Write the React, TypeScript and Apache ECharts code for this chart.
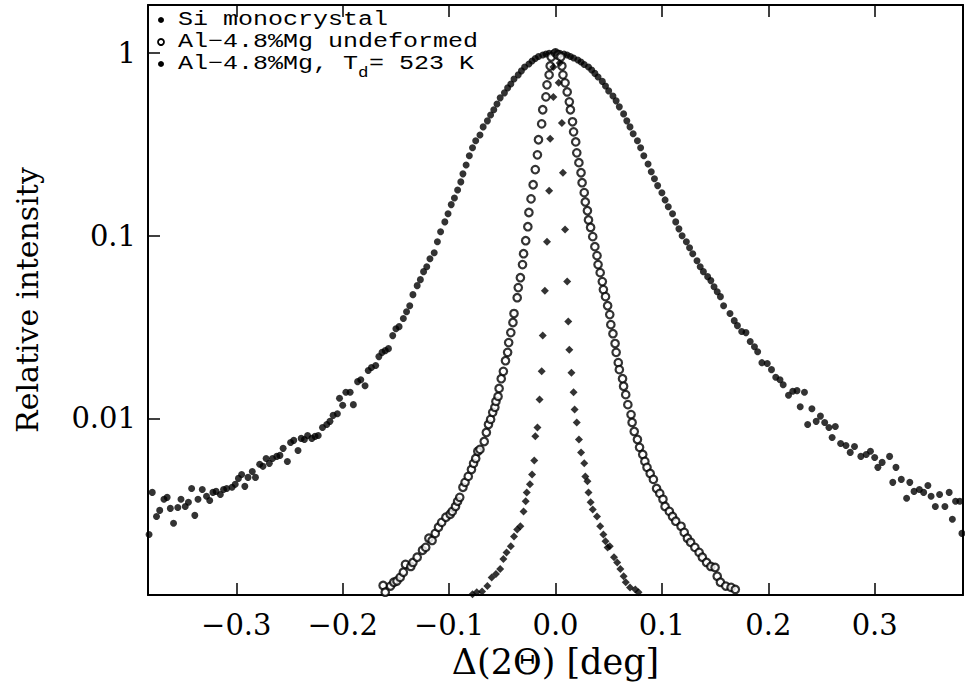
import React, { useEffect, useRef } from "react";
import * as echarts from "echarts";

// ---- data (Δ(2Θ) in deg, relative intensity) ----
const siX = [-0.078, -0.074, -0.069, -0.064, -0.06, -0.056, -0.052, -0.049, -0.046, -0.042, -0.039, -0.036, -0.033, -0.03, -0.028, -0.027, -0.024, -0.022, -0.02, -0.019, -0.017, -0.015, -0.013, -0.012, -0.01, -0.008, -0.006, -0.005, -0.002, -0.002, 0.0, 0.003, 0.004, 0.006, 0.007, 0.009, 0.011, 0.012, 0.013, 0.015, 0.017, 0.018, 0.02, 0.022, 0.024, 0.027, 0.028, 0.03, 0.031, 0.033, 0.035, 0.039, 0.042, 0.045, 0.047, 0.049, 0.051, 0.055, 0.058, 0.061, 0.064, 0.066, 0.07, 0.075, 0.078];
const siY = [0.00109, 0.00112, 0.00113, 0.00121, 0.00135, 0.00141, 0.0015, 0.0017, 0.00185, 0.002, 0.00226, 0.00247, 0.00257, 0.0031, 0.00352, 0.00394, 0.00436, 0.00494, 0.00589, 0.00798, 0.00893, 0.0127, 0.0181, 0.0284, 0.05, 0.0927, 0.176, 0.339, 0.575, 0.838, 1.0, 0.686, 0.882, 0.414, 0.221, 0.108, 0.0561, 0.0339, 0.0238, 0.0178, 0.0139, 0.0112, 0.00951, 0.00767, 0.00652, 0.00568, 0.00482, 0.00453, 0.00394, 0.00348, 0.00318, 0.00291, 0.00257, 0.00232, 0.00213, 0.00197, 0.002, 0.00174, 0.00163, 0.0015, 0.00137, 0.00127, 0.00119, 0.00116, 0.00112];

const undefX = [-0.162, -0.16, -0.155, -0.152, -0.149, -0.146, -0.143, -0.141, -0.136, -0.134, -0.13, -0.125, -0.122, -0.119, -0.116, -0.113, -0.11, -0.107, -0.103, -0.099, -0.097, -0.094, -0.092, -0.09, -0.087, -0.085, -0.082, -0.079, -0.077, -0.075, -0.073, -0.071, -0.067, -0.065, -0.063, -0.061, -0.059, -0.057, -0.056, -0.054, -0.053, -0.051, -0.049, -0.047, -0.045, -0.044, -0.042, -0.04, -0.039, -0.036, -0.035, -0.033, -0.031, -0.03, -0.028, -0.026, -0.025, -0.023, -0.021, -0.019, -0.017, -0.016, -0.013, -0.012, -0.009, -0.008, -0.006, -0.005, -0.004, 0.0, 0.002, 0.005, 0.006, 0.007, 0.009, 0.011, 0.013, 0.014, 0.016, 0.017, 0.019, 0.02, 0.022, 0.024, 0.025, 0.027, 0.028, 0.03, 0.031, 0.033, 0.035, 0.037, 0.039, 0.04, 0.042, 0.044, 0.045, 0.047, 0.049, 0.051, 0.052, 0.054, 0.056, 0.057, 0.059, 0.06, 0.063, 0.064, 0.066, 0.068, 0.071, 0.072, 0.074, 0.077, 0.079, 0.082, 0.084, 0.086, 0.089, 0.092, 0.095, 0.098, 0.101, 0.103, 0.107, 0.11, 0.113, 0.118, 0.121, 0.124, 0.127, 0.131, 0.135, 0.138, 0.142, 0.146, 0.15, 0.152, 0.155, 0.16, 0.165, 0.169];
const undefY = [0.00122, 0.00112, 0.00121, 0.00127, 0.00129, 0.00135, 0.00144, 0.00159, 0.00155, 0.00163, 0.00174, 0.0019, 0.00197, 0.00221, 0.00215, 0.00235, 0.00254, 0.0027, 0.00288, 0.00299, 0.0031, 0.0033, 0.00352, 0.0037, 0.0042, 0.00447, 0.00482, 0.00526, 0.00568, 0.00604, 0.00661, 0.00677, 0.00748, 0.00838, 0.00927, 0.00988, 0.0108, 0.0115, 0.0124, 0.0132, 0.0146, 0.0165, 0.0181, 0.0207, 0.023, 0.026, 0.0295, 0.0335, 0.0375, 0.0458, 0.052, 0.0589, 0.0695, 0.0797, 0.0939, 0.112, 0.134, 0.159, 0.19, 0.23, 0.277, 0.335, 0.409, 0.489, 0.575, 0.669, 0.759, 0.849, 0.951, 1.0, 0.975, 0.951, 0.849, 0.759, 0.686, 0.612, 0.54, 0.489, 0.42, 0.37, 0.326, 0.284, 0.251, 0.221, 0.195, 0.172, 0.153, 0.137, 0.122, 0.111, 0.0988, 0.0871, 0.0778, 0.0695, 0.0628, 0.0561, 0.0507, 0.0464, 0.0414, 0.037, 0.0326, 0.0291, 0.0257, 0.023, 0.0202, 0.0185, 0.0165, 0.015, 0.0135, 0.0119, 0.0105, 0.00951, 0.00849, 0.00767, 0.00695, 0.00635, 0.00582, 0.0054, 0.005, 0.00464, 0.00414, 0.00389, 0.00361, 0.0033, 0.0031, 0.00291, 0.00274, 0.00257, 0.00238, 0.00221, 0.0021, 0.00197, 0.00185, 0.00174, 0.00163, 0.00155, 0.00153, 0.00137, 0.00127, 0.00121, 0.00119, 0.00116];

const tdX = [-0.382, -0.379, -0.375, -0.372, -0.368, -0.365, -0.362, -0.359, -0.355, -0.352, -0.348, -0.345, -0.342, -0.339, -0.336, -0.332, -0.328, -0.325, -0.322, -0.319, -0.315, -0.312, -0.309, -0.304, -0.301, -0.298, -0.295, -0.292, -0.289, -0.285, -0.282, -0.278, -0.275, -0.272, -0.269, -0.266, -0.262, -0.259, -0.256, -0.252, -0.249, -0.246, -0.242, -0.239, -0.236, -0.233, -0.229, -0.226, -0.223, -0.219, -0.215, -0.212, -0.209, -0.205, -0.203, -0.2, -0.197, -0.193, -0.19, -0.186, -0.183, -0.179, -0.176, -0.173, -0.169, -0.166, -0.163, -0.16, -0.157, -0.153, -0.15, -0.147, -0.143, -0.14, -0.137, -0.134, -0.13, -0.127, -0.124, -0.121, -0.118, -0.114, -0.111, -0.108, -0.104, -0.101, -0.098, -0.095, -0.092, -0.089, -0.087, -0.084, -0.081, -0.078, -0.075, -0.071, -0.068, -0.064, -0.061, -0.058, -0.055, -0.052, -0.048, -0.045, -0.042, -0.039, -0.035, -0.032, -0.029, -0.025, -0.022, -0.019, -0.016, -0.012, -0.009, -0.006, -0.002, 0.001, 0.004, 0.008, 0.011, 0.014, 0.017, 0.021, 0.024, 0.027, 0.031, 0.034, 0.037, 0.04, 0.044, 0.047, 0.05, 0.054, 0.057, 0.06, 0.064, 0.067, 0.07, 0.073, 0.077, 0.08, 0.083, 0.087, 0.09, 0.093, 0.096, 0.1, 0.103, 0.106, 0.11, 0.113, 0.116, 0.119, 0.123, 0.126, 0.129, 0.133, 0.136, 0.139, 0.143, 0.146, 0.149, 0.152, 0.155, 0.158, 0.164, 0.168, 0.171, 0.175, 0.179, 0.183, 0.187, 0.19, 0.194, 0.199, 0.203, 0.207, 0.211, 0.214, 0.219, 0.223, 0.227, 0.23, 0.234, 0.237, 0.241, 0.245, 0.249, 0.253, 0.257, 0.26, 0.263, 0.268, 0.273, 0.277, 0.281, 0.287, 0.292, 0.296, 0.3, 0.303, 0.307, 0.314, 0.317, 0.32, 0.325, 0.33, 0.333, 0.337, 0.342, 0.346, 0.35, 0.353, 0.357, 0.361, 0.366, 0.37, 0.373, 0.376, 0.38, 0.382];
const tdY = [0.00232, 0.00394, 0.00291, 0.00314, 0.00361, 0.0037, 0.00322, 0.00267, 0.00326, 0.00361, 0.0033, 0.00348, 0.00414, 0.00295, 0.00361, 0.00409, 0.00375, 0.00356, 0.00394, 0.00399, 0.00384, 0.00409, 0.00414, 0.0042, 0.00436, 0.0047, 0.00494, 0.00425, 0.00476, 0.00513, 0.00476, 0.00561, 0.00547, 0.00604, 0.00568, 0.00604, 0.0062, 0.00628, 0.00686, 0.00582, 0.00739, 0.00759, 0.00668, 0.00778, 0.00767, 0.00807, 0.00778, 0.00798, 0.00807, 0.00893, 0.00927, 0.00964, 0.0104, 0.0106, 0.0129, 0.0118, 0.0139, 0.0139, 0.0119, 0.0159, 0.0163, 0.0151, 0.0183, 0.019, 0.0195, 0.0218, 0.023, 0.0235, 0.0241, 0.0284, 0.031, 0.0318, 0.0352, 0.0384, 0.0414, 0.0476, 0.0533, 0.0575, 0.0636, 0.0677, 0.0748, 0.0807, 0.0927, 0.105, 0.119, 0.132, 0.148, 0.161, 0.178, 0.197, 0.218, 0.244, 0.274, 0.303, 0.331, 0.356, 0.394, 0.425, 0.458, 0.489, 0.526, 0.568, 0.605, 0.644, 0.677, 0.721, 0.759, 0.798, 0.838, 0.871, 0.904, 0.933, 0.957, 0.975, 0.988, 0.996, 1.0, 1.0, 0.996, 0.988, 0.975, 0.957, 0.939, 0.916, 0.893, 0.865, 0.838, 0.807, 0.773, 0.739, 0.699, 0.66, 0.62, 0.582, 0.547, 0.507, 0.464, 0.425, 0.394, 0.361, 0.331, 0.303, 0.274, 0.247, 0.224, 0.205, 0.188, 0.172, 0.157, 0.144, 0.132, 0.119, 0.109, 0.1, 0.0927, 0.086, 0.0797, 0.073, 0.0677, 0.0636, 0.0597, 0.0568, 0.0526, 0.0494, 0.0464, 0.0414, 0.0375, 0.0343, 0.0322, 0.0299, 0.0295, 0.0264, 0.0247, 0.0232, 0.0202, 0.02, 0.0185, 0.0168, 0.0163, 0.0153, 0.0134, 0.0141, 0.0142, 0.0116, 0.0139, 0.00927, 0.0113, 0.00964, 0.0103, 0.00951, 0.00893, 0.00787, 0.00904, 0.0073, 0.00712, 0.00652, 0.00703, 0.0062, 0.00635, 0.00661, 0.00612, 0.0054, 0.00575, 0.0062, 0.00447, 0.0054, 0.00464, 0.00366, 0.00447, 0.00399, 0.00409, 0.00394, 0.0043, 0.00375, 0.0033, 0.00384, 0.0033, 0.00394, 0.00281, 0.00352, 0.00352, 0.00235];

const seriesNames = ["Si monocrystal", "Al\u22124.8%Mg undeformed", "Al\u22124.8%Mg, T"];
const legendSub = "d";
const legendTail = "= 523 K";

const xMin = -0.383;
const xMax = 0.383;
const yMin = 0.00108;
const yMax = 1.83;
const xTitle = "\u0394(2\u0398) [deg]";
const yTitle = "Relative intensity";

const zip = (xs: number[], ys: number[]) => xs.map((x, i) => [x, ys[i]]);

const fmtX = (v: number) => {
  const r = Math.round(v * 10) / 10;
  if (Math.abs(v - r) > 1e-6) return "";
  return (r < 0 ? "\u2212" : "") + Math.abs(r).toFixed(1);
};
const fmtY = (v: number) => {
  const l = Math.log10(v);
  const r = Math.round(l);
  if (Math.abs(l - r) > 0.01) return "";
  if (r === 0) return "1";
  if (r === -1) return "0.1";
  if (r === -2) return "0.01";
  return "";
};

const SERIF = "DejaVu Serif";
const MONO = "Liberation Mono";

export default function App() {
  const ref = useRef<HTMLDivElement>(null);
  useEffect(() => {
    const chart = echarts.init(ref.current!, null, { renderer: "svg" });
    const axisLine = { show: true, onZero: false, lineStyle: { color: "#000", width: 2 } };
    const tick = { show: true, inside: true, length: 12, lineStyle: { color: "#000", width: 1.5 } };
    const legX = 161;
    const txtX = 178;
    const rows = [20, 42, 64];
    const fs = 20;
    const sx = 1.25;
    const cw = fs * 0.6 * sx;
    const mono = `${fs}px '${MONO}'`;
    const txt = (x: number, y: number, s: string, font: string, scale: number) => ({
      type: "text", x, y, scaleX: scale,
      style: { text: s, fill: "#000", font, verticalAlign: "middle" },
    });
    chart.setOption({
      animation: false,
      backgroundColor: "#fff",
      grid: { left: 148, right: 2, top: 5, bottom: 88 },
      xAxis: [
        {
          type: "value", position: "bottom", min: xMin, max: xMax, splitNumber: 8, minInterval: 0.1, maxInterval: 0.1,
          axisLine, axisTick: tick, splitLine: { show: false },
          axisLabel: { margin: 15, color: "#000", fontFamily: SERIF, fontSize: 29, showMinLabel: false, showMaxLabel: false, formatter: fmtX },
          name: xTitle, nameLocation: "middle", nameGap: 44,
          nameTextStyle: { color: "#000", fontFamily: SERIF, fontSize: 35 },
        },
        {
          type: "value", position: "top", min: xMin, max: xMax, splitNumber: 8, minInterval: 0.1, maxInterval: 0.1,
          axisLine, axisTick: tick, splitLine: { show: false }, axisLabel: { show: false },
        },
      ],
      yAxis: [
        {
          type: "log", logBase: 10, position: "left", min: yMin, max: yMax,
          axisLine, axisTick: tick, splitLine: { show: false }, minorTick: { show: false },
          axisLabel: { margin: 12, color: "#000", fontFamily: SERIF, fontSize: 29, showMinLabel: false, showMaxLabel: false, formatter: fmtY },
          name: yTitle, nameLocation: "middle", nameGap: 106,
          nameTextStyle: { color: "#000", fontFamily: SERIF, fontSize: 30 },
        },
        {
          type: "log", logBase: 10, position: "right", min: yMin, max: yMax,
          axisLine, axisTick: { show: false }, splitLine: { show: false }, axisLabel: { show: false },
        },
      ],
      series: [
        {
          type: "scatter", name: seriesNames[0], data: zip(siX, siY), symbol: "diamond", symbolSize: 8,
          itemStyle: { color: "#000" }, z: 4,
        },
        {
          type: "scatter", name: seriesNames[1], data: zip(undefX, undefY), symbol: "circle", symbolSize: 7.5,
          itemStyle: { color: "#fff", borderColor: "#000", borderWidth: 2.2 }, z: 3,
        },
        {
          type: "scatter", name: seriesNames[2], data: zip(tdX, tdY), symbol: "circle", symbolSize: 7,
          itemStyle: { color: "#000" }, z: 2,
        },
      ],
      graphic: [
        { type: "circle", shape: { cx: legX, cy: rows[0], r: 3 }, style: { fill: "#000" } },
        { type: "circle", shape: { cx: legX, cy: rows[1], r: 3 }, style: { fill: "#fff", stroke: "#000", lineWidth: 1.8 } },
        { type: "circle", shape: { cx: legX, cy: rows[2], r: 3 }, style: { fill: "#000" } },
        txt(txtX, rows[0], seriesNames[0], mono, sx),
        txt(txtX, rows[1], seriesNames[1], mono, sx),
        txt(txtX, rows[2], seriesNames[2], mono, sx),
        txt(txtX + 12 * cw, rows[2] + 9, legendSub, `14px '${MONO}'`, sx),
        txt(txtX + 12 * cw + 11, rows[2], legendTail, mono, sx),
      ],
    });
    return () => chart.dispose();
  }, []);
  return (
    <div
      ref={ref}
      style={{ position: "absolute", left: 0, top: 0, width: 965, height: 684, background: "#fff" }}
    />
  );
}
